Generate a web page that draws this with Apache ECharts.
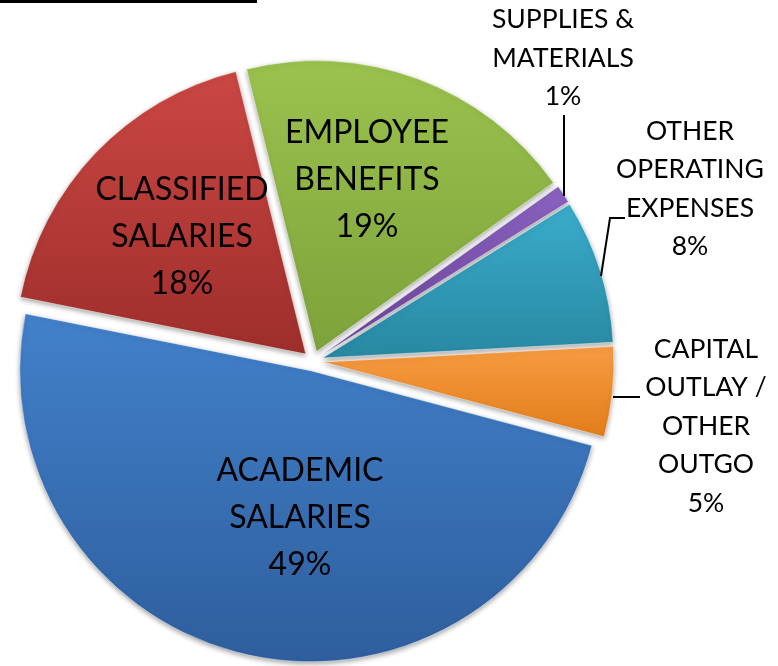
<!DOCTYPE html>
<html>
<head>
<meta charset="utf-8">
<script src="https://cdn.jsdelivr.net/npm/echarts@6/dist/echarts.min.js"></script>
<style>html,body{margin:0;padding:0;background:#fff;}#c{width:778px;height:666px;}</style>
</head>
<body>
<div id="c"></div>
<script>
// Data
const categories = ['SUPPLIES &\nMATERIALS', 'OTHER\nOPERATING\nEXPENSES', 'CAPITAL\nOUTLAY /\nOTHER\nOUTGO', 'ACADEMIC\nSALARIES', 'CLASSIFIED\nSALARIES', 'EMPLOYEE\nBENEFITS'];
const values = [1, 8, 5, 49, 18, 19];

// Styles
const colorTop = ['#8a62c0', '#3aaccb', '#f79c42', '#4281cb', '#cb4743', '#9bc24e'];
const colorBot = ['#6a4498', '#2888a2', '#e27c1a', '#2e5e9d', '#9e2e2b', '#7da23a'];
const labelPos = [[563, 58], [690, 189], [706, 426], [300, 518], [182, 237], [367, 180]];
const outside = [true, true, true, false, false, false];
const leaderLines = [
  [[564, 196], [564, 115]],
  [[601, 276], [610, 218], [625, 218]],
  [[613, 397], [640, 397]]
];

const chart = echarts.init(document.getElementById('c'));
const data = values.map((v, i) => ({
  name: categories[i],
  value: v,
  selected: true,
  itemStyle: {
    color: new echarts.graphic.LinearGradient(0, 0, 0, 1, [
      { offset: 0, color: colorTop[i] },
      { offset: 1, color: colorBot[i] }
    ])
  }
}));

const texts = values.map((v, i) => ({
  type: 'text',
  x: labelPos[i][0],
  y: labelPos[i][1],
  silent: true,
  z: 100,
  style: {
    text: categories[i] + '\n' + v + '%',
    fill: '#000',
    font: (outside[i] ? 26.5 : 32) + 'px Lato',
    lineHeight: outside[i] ? 38.5 : 47,
    align: 'center',
    verticalAlign: 'middle'
  }
}));
const lines = leaderLines.map(pts => ({
  type: 'polyline',
  z: 100,
  silent: true,
  shape: { points: pts },
  style: { stroke: '#000', lineWidth: 2, fill: null }
}));

chart.setOption({
  animation: false,
  backgroundColor: '#ffffff',
  graphic: [{ type: 'rect', shape: { x: 0, y: 0, width: 257, height: 3 }, style: { fill: '#000' } }]
    .concat(lines).concat(texts),
  series: [{
    type: 'pie',
    center: [313, 361],
    radius: [0, 291],
    startAngle: 35.5,
    clockwise: true,
    selectedMode: 'multiple',
    selectedOffset: 10,
    itemStyle: {
      borderColor: 'rgba(255,255,255,0.45)',
      borderWidth: 1,
      shadowBlur: 5,
      shadowColor: 'rgba(0,0,0,0.35)',
      shadowOffsetY: 2
    },
    label: { show: false },
    labelLine: { show: false },
    data: data
  }]
});
</script>
</body>
</html>
